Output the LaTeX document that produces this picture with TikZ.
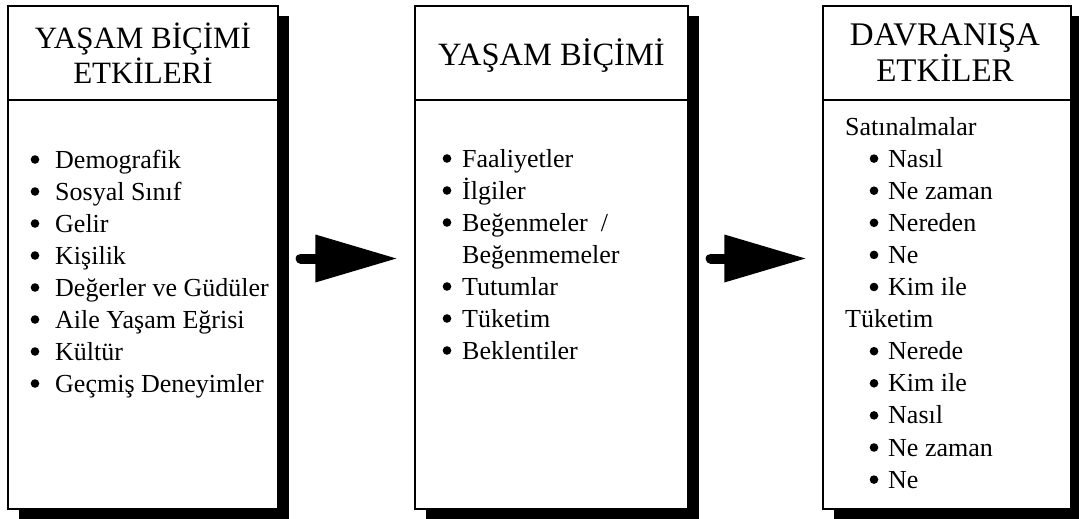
\documentclass[tikz,border=0pt]{standalone}
\usepackage{fontspec}
\setmainfont{Liberation Serif}
\usetikzlibrary{shadows,calc}
\begin{document}
\begin{tikzpicture}[x=1pt,y=-1pt,
  panel/.style={draw, line width=1.3pt, fill=white, rectangle, inner sep=0pt,
    minimum height=503pt,
    drop shadow={shadow xshift=11pt, shadow yshift=-10pt, fill=black, opacity=1}},
  title/.style={align=center, inner sep=0pt},
  entry/.style={anchor=base west, inner sep=0pt, font=\fontsize{26}{32}\selectfont},
  shaft/.style={line width=10pt, line cap=round},
  listdot/.style={radius=4.3pt},
]
\useasboundingbox (0,0) rectangle (1079,519);
\clip (0,0) rectangle (1079,519);

% the three panels
\node[panel, minimum width=270pt] (b1) at (143,257.5) {};
\node[panel, minimum width=273pt] (b2) at (551.5,257.5) {};
\node[panel, minimum width=248pt] (b3) at (947,257.5) {};

% header dividers
\foreach \b in {b1,b2,b3}
  \draw[line width=1.3pt] (\b.west |- 0,100) -- (\b.east |- 0,100);

% headings
\node[title, font=\fontsize{31}{35}\selectfont] (t1) at (143,53) {YAŞAM BİÇİMİ\\ETKİLERİ};
\node[title, font=\fontsize{32.5}{35}\selectfont] (t2) at (551.5,56) {YAŞAM BİÇİMİ};
\node[title, font=\fontsize{33}{36}\selectfont] (t3) at (945,53) {DAVRANIŞA\\ETKİLER};

% influences
\foreach \txt [count=\i] in {Demografik, Sosyal Sınıf, Gelir, Kişilik,
    Değerler ve Güdüler, Aile Yaşam Eğrisi, Kültür, Geçmiş Deneyimler}{
  \node[entry] (l\i) at (55,{168+32*(\i-1)}) {\txt};
  \fill[listdot] ($(l\i.base west)+(-20,-8.5)$) circle;
}

% life style
\node[entry] (m1) at (462,167) {Faaliyetler};
\node[entry] (m2) at (462,199) {İlgiler};
\node[entry] (m3) at (462,231) {Beğenmeler \ /};
\node[entry] (m4) at (462,263) {Beğenmemeler};
\node[entry] (m5) at (462,295) {Tutumlar};
\node[entry] (m6) at (462,327) {Tüketim};
\node[entry] (m7) at (462,359) {Beklentiler};
\foreach \n in {m1,m2,m3,m5,m6,m7}
  \fill[listdot] ($(\n.base west)+(-15,-8.5)$) circle;

% effects on behaviour
\node[entry] (r0) at (845,135) {Satınalmalar};
\foreach \txt [count=\i] in {Nasıl, Ne zaman, Nereden, Ne, Kim ile}{
  \node[entry] (r\i) at (888,{135+32.1*\i}) {\txt};
  \fill[listdot] ($(r\i.base west)+(-14,-8.5)$) circle;
}
\node[entry] (s0) at (845,{135+32.1*6}) {Tüketim};
\foreach \txt [count=\i] in {Nerede, Kim ile, Nasıl, Ne zaman, Ne}{
  \node[entry] (s\i) at (888,{135+32.1*(6+\i)}) {\txt};
  \fill[listdot] ($(s\i.base west)+(-14,-8.5)$) circle;
}

% block arrows between the panels
\coordinate (a1s) at ($(b1.east)+(22,1)$);
\coordinate (a1t) at ($(b2.west)+(-18,1)$);
\coordinate (a2s) at ($(b2.east)+(22,1)$);
\coordinate (a2t) at ($(b3.west)+(-17,1)$);
\draw[shaft] (a1s) -- ($(a1t)+(-78,0)$);
\fill (a1t) -- ++(-81,-24) -- ++(0,48) -- cycle;
\draw[shaft] (a2s) -- ($(a2t)+(-78,0)$);
\fill (a2t) -- ++(-81,-24) -- ++(0,48) -- cycle;
\end{tikzpicture}
\end{document}
